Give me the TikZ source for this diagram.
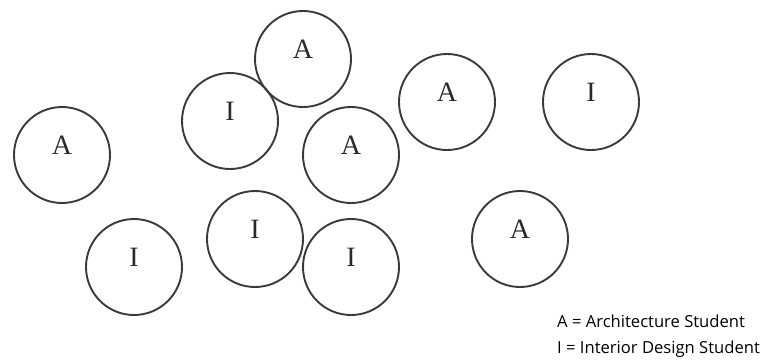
\documentclass[tikz,border=0pt]{standalone}
\usepackage{fontspec}
\setmainfont{Liberation Serif}
\newfontfamily\legendfont{Open Sans}
\definecolor{cline}{HTML}{3A3A3A}
\definecolor{ctext}{HTML}{2A2A2A}
\tikzset{
  every picture/.style={x=1pt, y=-1pt},
  student/.style={circle, draw=cline, line width=1.9pt, minimum size=96pt, inner sep=0pt,
    label={[font=\fontsize{28}{28}\selectfont, text=ctext, yshift=10pt]center:#1}},
  legend/.style={font=\legendfont\fontsize{16.6}{16.6}\selectfont, text=black, anchor=base west, inner sep=0pt},
}

\begin{document}
\begin{tikzpicture}
  \useasboundingbox (0,0) rectangle (768,360);
  % architecture students
  \node[student=A] (a1) at (62,155) {};
  \node[student=A] (a2) at (303,59) {};
  \node[student=A] (a3) at (351,155) {};
  \node[student=A] (a4) at (447,102) {};
  \node[student=A] (a5) at (520,239) {};
  % interior design students
  \node[student=I] (i1) at (230,121) {};
  \node[student=I] (i2) at (591,102) {};
  \node[student=I] (i3) at (134,267) {};
  \node[student=I] (i4) at (255,239) {};
  \node[student=I] (i5) at (351,267) {};
  % legend
  \node[legend] (keya) at (557,327) {A = Architecture Student};
  \node[legend] (keyi) at (557,353) {I = Interior Design Student};
\end{tikzpicture}
\end{document}
